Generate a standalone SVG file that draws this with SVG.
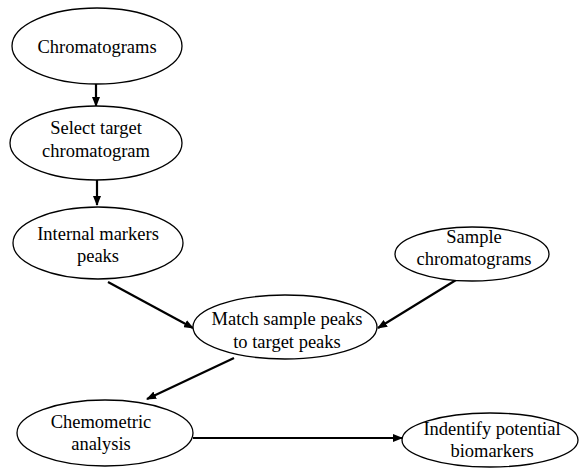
<svg xmlns="http://www.w3.org/2000/svg" width="580" height="468" viewBox="0 0 580 468">
<defs>
<marker id="ah" markerWidth="10" markerHeight="8" refX="9" refY="4" orient="auto" markerUnits="userSpaceOnUse">
<path d="M0,0 L10,4 L0,8 Z" fill="#000"/>
</marker>
<style>
.n ellipse{fill:#fff;stroke:#000;stroke-width:1.3}
.n text{font-family:"Liberation Serif","Times New Roman",serif;font-size:18.5px;fill:#000;text-anchor:middle}
.c line{stroke:#000;stroke-width:2.2;marker-end:url(#ah)}
</style>
</defs>
<rect width="580" height="468" fill="#fff"/>
<g class="c" id="connectors">
<line x1="96" y1="84" x2="96" y2="106"/>
<line x1="97" y1="180" x2="97" y2="205"/>
<line x1="108" y1="282" x2="193" y2="328"/>
<line x1="456" y1="280" x2="378" y2="328"/>
<line x1="234" y1="358" x2="147" y2="399"/>
<line x1="193" y1="438" x2="402" y2="438"/>
</g>
<g class="n" id="chromatograms">
<ellipse cx="97" cy="46" rx="85" ry="38"/>
<text x="97" y="53">Chromatograms</text>
</g>
<g class="n" id="select">
<ellipse cx="96" cy="143" rx="86" ry="37"/>
<text x="96" y="134">Select target</text>
<text x="96" y="157">chromatogram</text>
</g>
<g class="n" id="internal">
<ellipse cx="98" cy="243" rx="85" ry="36"/>
<text x="98" y="240">Internal markers</text>
<text x="98" y="262">peaks</text>
</g>
<g class="n" id="sample">
<ellipse cx="472" cy="254" rx="77" ry="27"/>
<text x="474" y="243">Sample</text>
<text x="474" y="265">chromatograms</text>
</g>
<g class="n" id="match">
<ellipse cx="285" cy="327" rx="92" ry="32"/>
<text x="287" y="325">Match sample peaks</text>
<text x="287" y="348">to target peaks</text>
</g>
<g class="n" id="chemometric">
<ellipse cx="105" cy="433" rx="88" ry="33"/>
<text x="101" y="428">Chemometric</text>
<text x="101" y="450">analysis</text>
</g>
<g class="n" id="identify">
<ellipse cx="490" cy="440" rx="88" ry="27"/>
<text x="492" y="435">Indentify potential</text>
<text x="492" y="457">biomarkers</text>
</g>
</svg>
